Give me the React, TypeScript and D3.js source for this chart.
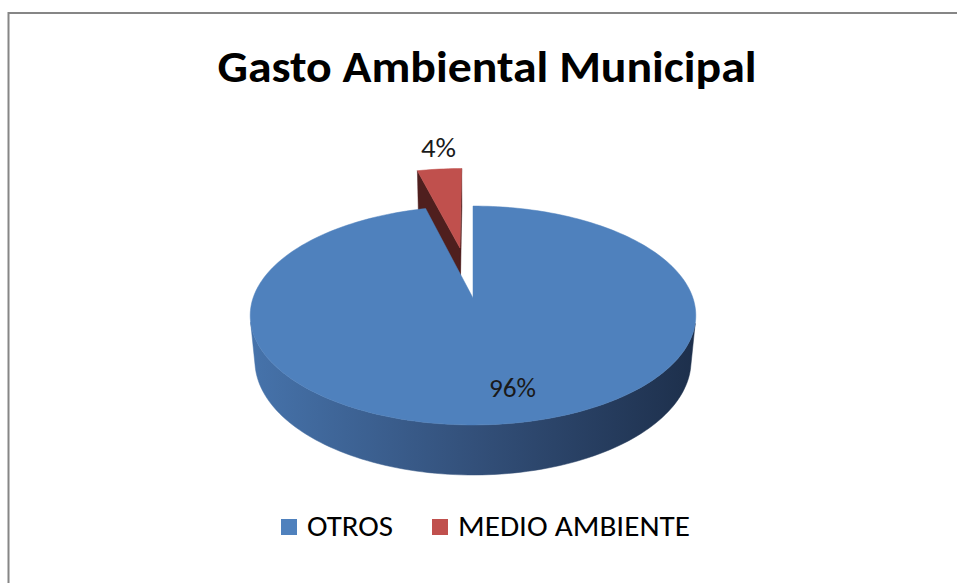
import React from "react";
import * as d3 from "d3";

const categories = ["OTROS", "MEDIO AMBIENTE"];
const values = [96, 4];
const labels = ["96%", "4%"];
const topColors = ["#4F81BD", "#C0504D"];
const wallColors = ["#1f3350", "#4f1f1e"];
const explode = [0, 0.51];

const W = 957;
const H = 583;
const FONT = "Calibri, Carlito, 'Liberation Sans Narrow', 'Open Sans', sans-serif";

// 3D projection parameters (unit-radius pie)
const cx = 473;
const cy = 298;
const sinP = 0.485;
const cosP = Math.sqrt(1 - sinP * sinP);
const dist = 5.47;
const f = 1203;
const depth = 0.238;
const camV = -dist * cosP;
const camH = dist * sinP;

function proj(u: number, v: number, h: number): [number, number] {
  const X = u;
  const Y = h * cosP + v * sinP;
  const Z = v * cosP - h * sinP + dist;
  return [cx + (f * X) / Z, cy - (f * Y) / Z];
}

function pt(theta: number, r: number, h: number, ou: number, ov: number) {
  return proj(ou + r * Math.sin(theta), ov + r * Math.cos(theta), h);
}

const line = d3.line();

export default function App() {
  const pie = d3.pie<number>().sort(null).value((d) => d).startAngle(0).endAngle(2 * Math.PI);
  const arcs = pie(values).map((a, i) => {
    const mid = (a.startAngle + a.endAngle) / 2;
    const ou = explode[i] * Math.sin(mid);
    const ov = explode[i] * Math.cos(mid);
    return { ...a, i, mid, ou, ov };
  });
  const order = [...arcs].sort((a, b) => Math.cos(b.mid) - Math.cos(a.mid));

  const pieces: React.ReactNode[] = [];
  order.forEach((s) => {
    const { startAngle: a0, endAngle: a1, ou, ov, i } = s;
    const n = Math.max(4, Math.ceil(((a1 - a0) / (2 * Math.PI)) * 240));
    const thetas = d3.range(n + 1).map((k) => a0 + ((a1 - a0) * k) / n);

    // cut walls
    const walls: { ang: number; nu: number; nv: number }[] = [
      { ang: a0, nu: -Math.cos(a0), nv: Math.sin(a0) },
      { ang: a1, nu: Math.cos(a1), nv: -Math.sin(a1) },
    ];
    walls.forEach((w, k) => {
      const dot = w.nu * (0 - ou) + w.nv * (camV - ov);
      if (dot > 0) {
        const pts = [
          proj(ou, ov, 0),
          pt(w.ang, 1, 0, ou, ov),
          pt(w.ang, 1, -depth, ou, ov),
          proj(ou, ov, -depth),
        ];
        pieces.push(
          <path key={`w${i}-${k}`} d={line(pts) + "Z"} fill={wallColors[i]} stroke={wallColors[i]} strokeWidth={0.5} />
        );
      }
    });

    // outer wall
    const vis = thetas.filter((t) => -ou * Math.sin(t) - 1 + Math.cos(t) * (camV - ov) > 0);
    if (vis.length > 1) {
      const top = vis.map((t) => pt(t, 1, 0, ou, ov));
      const bot = vis.map((t) => pt(t, 1, -depth, ou, ov)).reverse();
      pieces.push(
        <path key={`o${i}`} d={line([...top, ...bot]) + "Z"} fill={`url(#side${i})`} stroke={`url(#side${i})`} strokeWidth={0.5} />
      );
    }

    // top face
    const topPts = [proj(ou, ov, 0), ...thetas.map((t) => pt(t, 1, 0, ou, ov))];
    pieces.push(
      <path key={`t${i}`} d={line(topPts) + "Z"} fill={topColors[i]} stroke={topColors[i]} strokeWidth={0.5} />
    );
  });

  // labels
  const blue = arcs[0];
  const bl = pt(blue.mid, 0.75, 0, blue.ou, blue.ov);
  const red = arcs[1];
  const rl = pt(red.mid, 1, 0, red.ou, red.ov);

  const legendX = [281, 432];
  const legendTextW = [86, 232];

  return (
    <svg width={W} height={H} style={{ position: "fixed", left: 0, top: 0, background: "#fff" }}>
      <defs>
        <linearGradient id="side0" gradientUnits="userSpaceOnUse" x1={250} y1={0} x2={696} y2={0}>
          <stop offset="0" stopColor="#4673ab" />
          <stop offset="0.5" stopColor="#33507a" />
          <stop offset="1" stopColor="#1d2f4b" />
        </linearGradient>
        <linearGradient id="side1" gradientUnits="userSpaceOnUse" x1={250} y1={0} x2={696} y2={0}>
          <stop offset="0" stopColor="#a04341" />
          <stop offset="1" stopColor="#4f1f1e" />
        </linearGradient>
      </defs>
      <rect x={0} y={0} width={W} height={H} fill="#fff" />
      <path d={`M8.5,${H} V13 H${W}`} fill="none" stroke="#868686" strokeWidth={2} />
      <text x={487} y={82} textAnchor="middle" fontFamily={FONT} fontWeight="bold" fontSize={45}
        textLength={539} lengthAdjust="spacingAndGlyphs" fill="#000">
        Gasto Ambiental Municipal
      </text>
      {pieces}
      <text x={bl[0] + 16} y={bl[1] + 9} textAnchor="middle" fontFamily={FONT} fontSize={26}
        textLength={47} lengthAdjust="spacingAndGlyphs" fill="#1a1a1a">
        {labels[0]}
      </text>
      <text x={rl[0] - 1} y={rl[1] - 12} textAnchor="middle" fontFamily={FONT} fontSize={26}
        textLength={35} lengthAdjust="spacingAndGlyphs" fill="#1a1a1a">
        {labels[1]}
      </text>
      {categories.map((c, i) => (
        <g key={c}>
          <rect x={legendX[i]} y={519} width={16} height={16} fill={topColors[i]} />
          <text x={legendX[i] + 26} y={536} fontFamily={FONT} fontSize={29}
            textLength={legendTextW[i]} lengthAdjust="spacingAndGlyphs" fill="#000">
            {c}
          </text>
        </g>
      ))}
    </svg>
  );
}
